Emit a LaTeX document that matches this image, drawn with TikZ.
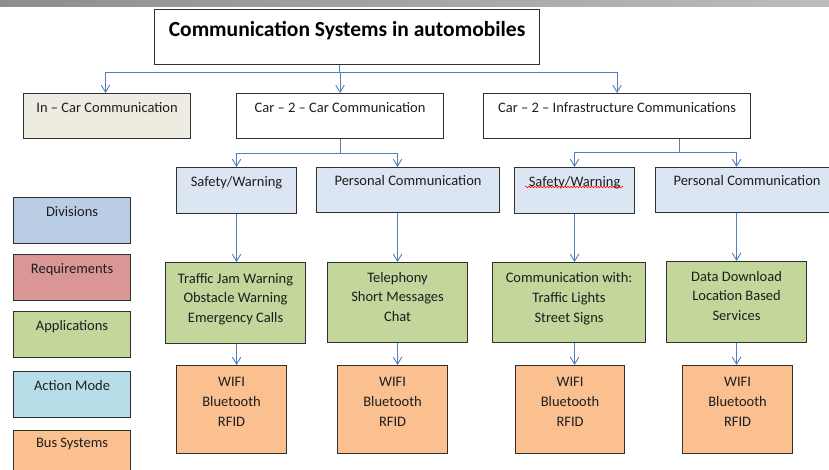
\documentclass[tikz,border=0pt]{standalone}
\usepackage{fontspec}
\setmainfont{Carlito}
\usetikzlibrary{arrows.meta,decorations.pathmorphing}

\definecolor{edge}{HTML}{303030}
\definecolor{ink}{HTML}{1E1E1E}
\definecolor{linkblue}{HTML}{4F81BD}
\definecolor{incarfill}{HTML}{EEECE1}
\definecolor{subfill}{HTML}{DCE6F2}
\definecolor{divfill}{HTML}{B9CDE5}
\definecolor{reqfill}{HTML}{D99694}
\definecolor{appfill}{HTML}{C3D69B}
\definecolor{actfill}{HTML}{B7DEE8}
\definecolor{busfill}{HTML}{FAC090}
\definecolor{barleft}{HTML}{8E8E8E}
\definecolor{barright}{HTML}{BCBCBC}

% top-aligned text inside a box of given width, height and top padding
\newcommand\boxtext[4]{\parbox[c][#2pt][t]{#1pt}{\centering\vspace*{#3pt}#4\par}}

\tikzset{
  box/.style={draw=edge, line width=1.1pt, inner sep=0pt, anchor=north west,
    text=ink, font=\fontsize{14.5}{19.8}\selectfont},
  link/.style={draw=linkblue, line width=0.9pt,
    -{Straight Barb[length=7pt,width=8.5pt,line width=0.9pt]}},
}

\begin{document}
\begin{tikzpicture}[x=1pt,y=-1pt]
\useasboundingbox (0,0) rectangle (829,470);
\clip (0,0) rectangle (829,470);
\fill[white] (0,0) rectangle (829,470);
\shade[left color=barleft, right color=barright] (0,0) rectangle (829,7);

% title and main branches
\node[box, font=\fontsize{21.5}{25}\selectfont\bfseries, text=black] (title) at (154,9)
  {\boxtext{385}{55}{11.5}{Communication Systems in automobiles}};
\node[box, fill=incarfill] (incar) at (23,93) {\boxtext{167}{45}{9}{In -- Car Communication}};
\node[box, fill=white] (c2c) at (236,93) {\boxtext{207}{45}{9}{Car -- 2 -- Car Communication}};
\node[box, fill=white] (c2i) at (483,93) {\boxtext{267}{45}{9}{Car -- 2 -- Infrastructure Communications}};

% divisions
\node[box, fill=subfill] (s1) at (176,167) {\boxtext{120}{46}{9}{Safety/Warning}};
\node[box, fill=subfill] (p1) at (316,167) {\boxtext{183}{45}{8}{Personal Communication}};
\node[box, fill=subfill] (s2) at (514,167) {\boxtext{120}{46}{9}{Safety/Warning}};
\node[box, fill=subfill] (p2) at (655,167) {\boxtext{183}{45}{8}{Personal Communication}};

% applications
\node[box, fill=appfill] (g1) at (165,262) {\boxtext{140}{81}{10.5}{Traffic Jam Warning\\Obstacle Warning\\Emergency Calls}};
\node[box, fill=appfill] (g2) at (327,262) {\boxtext{140}{80}{9.5}{Telephony\\Short Messages\\Chat}};
\node[box, fill=appfill] (g3) at (492,262) {\boxtext{153}{80}{10}{Communication with:\\Traffic Lights\\Street Signs}};
\node[box, fill=appfill] (g4) at (666,261) {\boxtext{140}{81}{9.5}{Data Download\\Location Based\\Services}};

% bus systems
\node[box, fill=busfill] (o1) at (176,365) {\boxtext{110}{88}{12}{WIFI\\Bluetooth\\RFID}};
\node[box, fill=busfill] (o2) at (337,365) {\boxtext{110}{88}{12}{WIFI\\Bluetooth\\RFID}};
\node[box, fill=busfill] (o3) at (515,365) {\boxtext{109}{88}{12}{WIFI\\Bluetooth\\RFID}};
\node[box, fill=busfill] (o4) at (682,365) {\boxtext{110}{88}{12}{WIFI\\Bluetooth\\RFID}};

% legend
\node[box, fill=divfill] (l1) at (13,197) {\boxtext{117}{46}{9}{Divisions}};
\node[box, fill=reqfill] (l2) at (13,254) {\boxtext{117}{46}{9}{Requirements}};
\node[box, fill=appfill] (l3) at (13,311) {\boxtext{117}{46}{9}{Applications}};
\node[box, fill=actfill] (l4) at (13,371) {\boxtext{117}{46}{9}{Action Mode}};
\node[box, fill=busfill] (l5) at (13,430) {\boxtext{117}{60}{8}{Bus Systems}};

% spell-check squiggle
\draw[red, line width=0.5pt, decorate, decoration={snake, amplitude=0.8pt, segment length=3pt}]
  ([shift={(11,20)}]s2.north west) -- ([shift={(109,20)}]s2.north west);

% connectors
\draw[link] ([xshift=-7.5pt]title.south) -- ++(0,7) -| ([xshift=-1.5pt]incar.north);
\draw[link] ([xshift=-7.5pt]title.south) -- ++(0,7) -| (c2c.north);
\draw[link] ([xshift=-7.5pt]title.south) -- ++(0,7) -| (c2i.north);

\draw[link] (c2c.south) -- ++(0,14) -| (s1.north);
\draw[link] (c2c.south) -- ++(0,14) -| ([xshift=-10.5pt]p1.north);
\draw[link] ([xshift=62pt]c2i.south) -- ++(0,13) -| (s2.north);
\draw[link] ([xshift=62pt]c2i.south) -- ++(0,13) -| ([xshift=-10.5pt]p2.north);

\draw[link] (s1.south) -- (s1.south |- g1.north);
\draw[link] (g2.north |- p1.south) -- (g2.north);
\draw[link] (s2.south) -- (s2.south |- g3.north);
\draw[link] (g4.north |- p2.south) -- (g4.north);

\draw[link] (s1.south |- g1.south) -- (s1.south |- o1.north);
\draw[link] (g2.south) -- (g2.south |- o2.north);
\draw[link] (s2.south |- g3.south) -- (s2.south |- o3.north);
\draw[link] (g4.south) -- (g4.south |- o4.north);
\end{tikzpicture}
\end{document}
